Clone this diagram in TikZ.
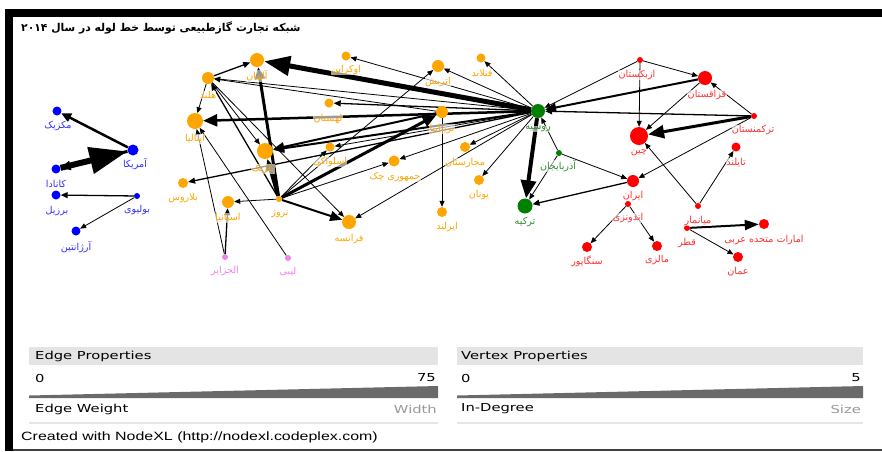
\documentclass[tikz,border=0pt]{standalone}
\usepackage{fontspec}
\usepackage{graphicx}
\usetikzlibrary{arrows.meta}
\TeXXeTstate=1
\newfontfamily\fa[Script=Arabic]{DejaVu Sans}
\newfontfamily\legfont{DejaVu Sans}
\newfontfamily\credfont{Liberation Sans}
\newcommand\FA[1]{\beginR #1\endR}
\newcommand\LX[1]{\scalebox{1.34}[1]{#1}}
\definecolor{nOr}{HTML}{FFA500}
\definecolor{nBl}{HTML}{0000FF}
\definecolor{nRd}{HTML}{FF0000}
\definecolor{nGr}{HTML}{008000}
\definecolor{nVi}{HTML}{EE82EE}
\definecolor{lBl}{HTML}{3030FF}
\definecolor{lRd}{HTML}{FF3030}
\definecolor{lGr}{HTML}{2E8B2E}
\definecolor{hdr}{HTML}{E4E4E4}
\definecolor{wedge}{HTML}{6A6A6A}
\definecolor{sub}{HTML}{999999}
\pgfdeclarelayer{edges}
\pgfsetlayers{edges,main}
\tikzset{
  vtx/.style={circle, inner sep=0pt, draw=none, minimum size=#1},
  vo/.style={vtx=#1, fill=nOr},
  vb/.style={vtx=#1, fill=nBl},
  vr/.style={vtx=#1, fill=nRd},
  vg/.style={vtx=#1, fill=nGr},
  vv/.style={vtx=#1, fill=nVi},
  lab/.style={font=\fa\fontsize{9.6}{10}\selectfont, inner sep=0.3pt, yshift=-2pt, fill=white, fill opacity=0.6, text opacity=1},
  lo/.style={lab, text=nOr},
  lb/.style={lab, text=lBl},
  lr/.style={lab, text=lRd},
  lg/.style={lab, text=lGr},
  lv/.style={lab, text=nVi},
  ed/.style={draw=black},
  a1/.style={ed, line width=0.8pt, -{Triangle[length=6pt,width=5pt]}},
  a2/.style={ed, line width=1.3pt, -{Triangle[length=7pt,width=6pt]}},
  a3/.style={ed, line width=2pt, -{Triangle[length=11pt,width=9pt]}},
  legtxt/.style={font=\legfont\fontsize{11}{12}\selectfont, inner sep=0pt},
}
\begin{document}
\begin{tikzpicture}[x=1pt,y=-1pt]
\useasboundingbox (0,0) rectangle (882,451);
% frame
\fill[black] (5,9) rectangle (882,17);
\fill[black] (5,9) rectangle (13,451);
\draw[black!75, line width=1.5pt] (13,450) -- (882,450);
% title
\node[anchor=west, font=\fa\bfseries\fontsize{10.8}{12}\selectfont, inner sep=0pt] (title) at (21,28)
  {\beginR شبکه تجارت گازطبیعی توسط خط لوله در سال \beginL ۲۰۱۴\endL\endR};

% ---------------- vertices ----------------
% blue
\node[vb=9] (mx) at (57,111) {};
\node[vb=11] (us) at (133,150) {};
\node[vb=9] (ca) at (56,169) {};
\node[vb=9] (br) at (56,195) {};
\node[vb=6] (bo) at (137,196) {};
\node[vb=9] (ar) at (76,231) {};
% orange / europe
\node[vo=14] (de) at (257,60) {};
\node[vo=12] (nl) at (208,78) {};
\node[vo=16] (it) at (195,121) {};
\node[vo=9] (ua) at (346,56) {};
\node[vo=9] (pl) at (329,103) {};
\node[vo=9] (sk) at (330,147) {};
\node[vo=16] (be) at (265,151) {};
\node[vo=6] (no) at (279,199) {};
\node[vo=12] (es) at (228,202) {};
\node[vo=10] (by) at (183,183) {};
\node[vo=14] (fr) at (349,222) {};
\node[vo=12] (at) at (438,66) {};
\node[vo=9] (fi) at (481,58) {};
\node[vo=12] (gb) at (442,112) {};
\node[vo=10] (hu) at (465,147) {};
\node[vo=11] (cz) at (394,161) {};
\node[vo=10] (gr) at (479,180) {};
\node[vo=10] (ie) at (442,212) {};
\node[vv=6] (dz) at (225,257) {};
\node[vv=6] (ly) at (288,258) {};
% green
\node[vg=14] (ru) at (538,111) {};
\node[vg=6] (az) at (559,153) {};
\node[vg=15] (tr) at (525,206) {};
% red
\node[vr=6] (uz) at (640,60) {};
\node[vr=14] (kz) at (705,78) {};
\node[vr=6] (tm) at (754,116) {};
\node[vr=18] (cn) at (639,136) {};
\node[vr=9] (th) at (736,147) {};
\node[vr=12] (ir) at (633,181) {};
\node[vr=6] (id) at (628,204) {};
\node[vr=6] (mm) at (698,206) {};
\node[vr=6] (qa) at (687,228) {};
\node[vr=10] (ae) at (764,224) {};
\node[vr=10] (om) at (738,257) {};
\node[vr=10] (sg) at (587,247) {};
\node[vr=10] (my) at (657,246) {};

% ---------------- edges ----------------
\begin{pgfonlayer}{edges}
% americas
\draw[ed, line width=2.5pt, -{Triangle[length=10pt,width=9pt]}] (us) -- (mx);
\draw[ed, line width=3pt, -{Triangle[length=10pt,width=9pt]}] (us) -- (ca);
\draw[ed, line width=6pt, -{Triangle[length=38pt,width=26pt]}] (ca) -- (us);
\draw[a2] (bo) -- (br);
\draw[a1] (bo) -- (ar);
% russia
\draw[ed, line width=5pt, -{Triangle[length=26pt,width=19pt]}] (ru) -- (de);
\draw[ed, line width=2.5pt, -{Triangle[length=14pt,width=12pt]}] (ru) -- (it);
\draw[ed, line width=4pt, -{Triangle[length=18pt,width=15pt]}] (ru) -- (tr);
\draw[a1] (ru) -- (nl);
\draw[a1] (ru) -- (ua);
\draw[a2] (ru) -- (pl);
\draw[a1] (ru) -- (sk);
\draw[a3] (ru) -- (be);
\draw[a1] (ru) -- (at);
\draw[a1] (ru) -- (fi);
\draw[a1] (ru) -- (hu);
\draw[a1] (ru) -- (cz);
\draw[a1] (ru) -- (gr);
\draw[a2] (ru) -- (by);
\draw[a1] (ru) -- (fr);
% norway
\draw[ed, line width=3pt, -{Triangle[length=12pt,width=10pt]}] (no) -- (de);
\draw[ed, line width=3.5pt, -{Triangle[length=12pt,width=10pt]}] (no) -- (be);
\draw[ed, line width=2pt, -{Triangle[length=12pt,width=10pt]}] (no) -- (fr);
\draw[ed, line width=3pt, -{Triangle[length=14pt,width=11pt]}] (no) -- (gb);
\draw[a1] (no) -- (es);
\draw[a2] (no) -- (nl);
\draw[a1] (no) -- (at);
\draw[a1] (no) -- (cz);
\draw[a1] (no) -- (sk);
% netherlands
\draw[a2] (nl) -- (de);
\draw[a1] (nl) -- (it);
\draw[a1] (nl) -- (be);
\draw[a1] (nl) -- (fr);
% africa
\draw[a1] (dz) -- (it);
\draw[a2] (dz) -- (es);
\draw[a1] (ly) -- (it);
% uk
\draw[a3] (gb) -- (be);
\draw[a1] (gb) -- (nl);
\draw[a1] (gb) -- (ie);
% caspian / asia
\draw[a1] (az) -- (tr);
\draw[a1] (az) -- (ir);
\draw[a1] (az) -- (ru);
\draw[a2] (ir) -- (tr);
\draw[a1] (uz) -- (ru);
\draw[a3] (kz) -- (ru);
\draw[a2] (tm) -- (ru);
\draw[a1] (uz) -- (kz);
\draw[a1] (uz) -- (cn);
\draw[a1] (kz) -- (cn);
\draw[ed, line width=3pt, -{Triangle[length=16pt,width=13pt]}] (tm) -- (cn);
\draw[a1] (tm) -- (kz);
\draw[a1] (tm) -- (ir);
\draw[a1] (mm) -- (cn);
\draw[a1] (mm) -- (th);
\draw[ed, line width=2pt, -{Triangle[length=14pt,width=10pt]}] (qa) -- (ae);
\draw[a1] (qa) -- (om);
\draw[a1] (id) -- (sg);
\draw[a1] (id) -- (my);
\end{pgfonlayer}

% ---------------- labels ----------------
\node[lb] (lmx) at (58,124) {\FA{مکزیک}};
\node[lb] (lus) at (135,162) {\FA{آمریکا}};
\node[lb] (lca) at (56,182) {\FA{کانادا}};
\node[lb] (lbr) at (57,209) {\FA{برزیل}};
\node[lb] (lbo) at (137,208) {\FA{بولیوی}};
\node[lb] (lar) at (76,245) {\FA{آرژانتین}};
\node[lo] (lde) at (257,74) {\FA{آلمان}};
\node[lo] (lnl) at (208,93) {\FA{هلند}};
\node[lo] (lit) at (195,137) {\FA{ایتالیا}};
\node[lo] (lua) at (346,68) {\FA{اوکراین}};
\node[lo] (lpl) at (328,117) {\FA{لهستان}};
\node[lo] (lsk) at (330,160) {\FA{اسلواکی}};
\node[lo] (lbe) at (263,167) {\FA{بلژیک}};
\node[lo] (lno) at (280,212) {\FA{نروژ}};
\node[lo] (les) at (228,216) {\FA{اسپانیا}};
\node[lo] (lby) at (183,196) {\FA{بلاروس}};
\node[lo] (lfr) at (349,237) {\FA{فرانسه}};
\node[lo] (lat) at (438,80) {\FA{اتریش}};
\node[lo] (lfi) at (482,71) {\FA{فنلاند}};
\node[lo] (lgb) at (442,127) {\FA{بریتانیا}};
\node[lo] (lhu) at (465,161) {\FA{مجارستان}};
\node[lo] (lcz) at (395,175) {\FA{جمهوری چک}};
\node[lo] (lgr) at (479,193) {\FA{یونان}};
\node[lo] (lie) at (447,225) {\FA{ایرلند}};
\node[lv] (ldz) at (225,269) {\FA{الجزایر}};
\node[lv] (lly) at (288,270) {\FA{لیبی}};
\node[lg] (lru) at (538,127) {\FA{روسیه}};
\node[lg] (laz) at (558,164) {\FA{آذربایجان}};
\node[lg] (ltr) at (525,220) {\FA{ترکیه}};
\node[lr] (luz) at (637,73) {\FA{ازبکستان}};
\node[lr] (lkz) at (707,93) {\FA{قزاقستان}};
\node[lr] (ltm) at (753,128) {\FA{ترکمنستان}};
\node[lr] (lcn) at (639,151) {\FA{چین}};
\node[lr] (lth) at (736,161) {\FA{تایلند}};
\node[lr] (lir) at (633,194) {\FA{ایران}};
\node[lr] (lid) at (628,216) {\FA{اندونزی}};
\node[lr] (lmm) at (698,219) {\FA{میانمار}};
\node[lr] (lqa) at (687,241) {\FA{قطر}};
\node[lr] (lae) at (764,238) {\FA{امارات متحده عربی}};
\node[lr] (lom) at (738,270) {\FA{عمان}};
\node[lr] (lsg) at (587,259) {\FA{سنگاپور}};
\node[lr] (lmy) at (657,258) {\FA{مالزی}};

% ---------------- legend ----------------
\fill[hdr] (29,347) rectangle (438,365);
\fill[hdr] (457,347) rectangle (863,365);
\node[legtxt, anchor=west] (ehdr) at (35,356) {\LX{Edge Properties}};
\node[legtxt, anchor=west] (vhdr) at (461,356) {\LX{Vertex Properties}};
\node[legtxt, anchor=west] (emin) at (35,378) {\LX{0}};
\node[legtxt, anchor=east] (emax) at (436,378) {\LX{75}};
\node[legtxt, anchor=west] (vmin) at (461,378) {\LX{0}};
\node[legtxt, anchor=east] (vmax) at (861,378) {\LX{5}};
\fill[wedge] (29,395.5) -- (438,386) -- (438,398) -- (29,398) -- cycle;
\fill[wedge] (457,395.5) -- (863,386) -- (863,398) -- (457,398) -- cycle;
\node[legtxt, anchor=west] (ew) at (35,409) {\LX{Edge Weight}};
\node[legtxt, anchor=east, text=sub] (ewid) at (437,409) {\LX{Width}};
\node[legtxt, anchor=west] (vin) at (461,409) {\LX{In-Degree}};
\node[legtxt, anchor=east, text=sub] (vsize) at (861,409) {\LX{Size}};
\draw[black!10, line width=1.2pt] (29,423) -- (438,423);
\draw[black!10, line width=1.2pt] (457,423) -- (863,423);
\node[anchor=west, inner sep=0pt, font=\credfont\fontsize{12}{13}\selectfont] (cred) at (21,437)
  {\scalebox{1.33}[1]{Created with NodeXL (http://nodexl.codeplex.com)}};
\end{tikzpicture}
\end{document}
